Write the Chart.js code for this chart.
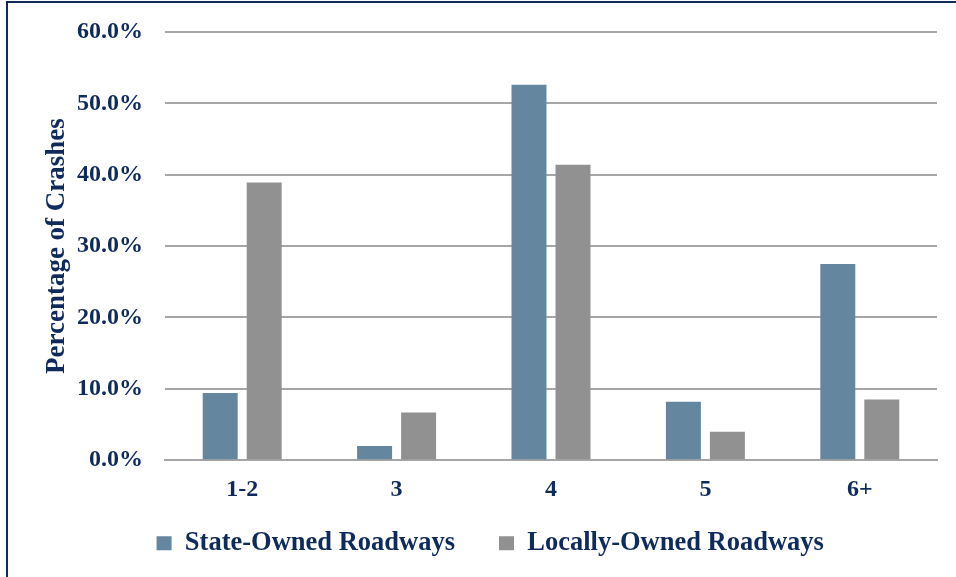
<!DOCTYPE html>
<html>
<head>
<meta charset="utf-8">
<script src="https://cdn.jsdelivr.net/npm/chart.js@4.4.1/dist/chart.umd.min.js"></script>
<style>
  html, body { margin: 0; padding: 0; background: #fff; }
  #wrap { position: relative; width: 956px; height: 577px; }
  #frame { position: absolute; left: 6px; top: 1px; right: 0; bottom: 0;
           border-top: 2px solid #0F2B5B; border-left: 2px solid #0F2B5B; pointer-events: none; }
  canvas { position: absolute; left: 0; top: 0; }
</style>
</head>
<body>
<div id="wrap">
  <canvas id="myChart" width="956" height="577"></canvas>
  <div id="frame"></div>
</div>
<script>
// lanes per crash location, share of crashes (%)
var categories = ["1-2", "3", "4", "5", "6+"];
var stateOwned = [9.4, 2.0, 52.6, 8.2, 27.5];
var localOwned = [38.9, 6.7, 41.4, 4.0, 8.5];
var yTicks = [0, 10, 20, 30, 40, 50, 60];

var navy = '#0F2B5B';
var serif = '"Liberation Serif", "Times New Roman", serif';

var chartdata = {
  labels: categories,
  datasets: [
    {
      label: 'State-Owned Roadways',
      backgroundColor: '#64869E',
      data: stateOwned
    },
    {
      label: 'Locally-Owned Roadways',
      backgroundColor: '#919191',
      data: localOwned
    }
  ]
};

// pull the legend row up closer to the category labels
var legendLift = {
  id: 'legendLift',
  afterLayout: function (chart) {
    chart.legend.top -= 33;
    chart.legend.bottom -= 33;
  }
};

var ctx = document.getElementById('myChart');
var barGraph = new Chart(ctx, {
  type: 'bar',
  data: chartdata,
  plugins: [legendLift],
  options: {
    responsive: false,
    animation: false,
    layout: { padding: { left: 43.5, right: 19, top: 32, bottom: -16 } },
    datasets: {
      bar: { categoryPercentage: 0.57, barPercentage: 0.795 }
    },
    plugins: {
      tooltip: { enabled: false },
      legend: {
        position: 'bottom',
        maxHeight: 74,
        labels: {
          color: navy,
          font: { family: serif, size: 26.5, weight: 'bold' },
          boxWidth: 15,
          boxHeight: 14,
          padding: 44
        }
      }
    },
    scales: {
      x: {
        grid: { display: false, drawTicks: false },
        border: { color: '#A6A6A6', width: 2 },
        ticks: { color: navy, font: { family: serif, size: 24, weight: 'bold' }, padding: 15 }
      },
      y: {
        min: yTicks[0],
        max: yTicks[yTicks.length - 1],
        afterBuildTicks: function (s) {
          s.ticks = yTicks.map(function (v) { return { value: v }; });
        },
        grid: { color: '#A6A6A6', lineWidth: 2, drawTicks: false },
        border: { display: false },
        ticks: {
          color: navy,
          font: { family: serif, size: 24, weight: 'bold' },
          padding: 22,
          callback: function (v) { return v.toFixed(1) + '%'; }
        },
        title: {
          display: true,
          text: 'Percentage of Crashes',
          color: navy,
          font: { family: serif, size: 27, weight: 'bold', lineHeight: 1 },
          padding: 0
        },
        afterFit: function (s) {
          s.width = 121.5;
          s.paddingTop = 0;
          s.paddingBottom = 0;
        }
      }
    }
  }
});
</script>
</body>
</html>
